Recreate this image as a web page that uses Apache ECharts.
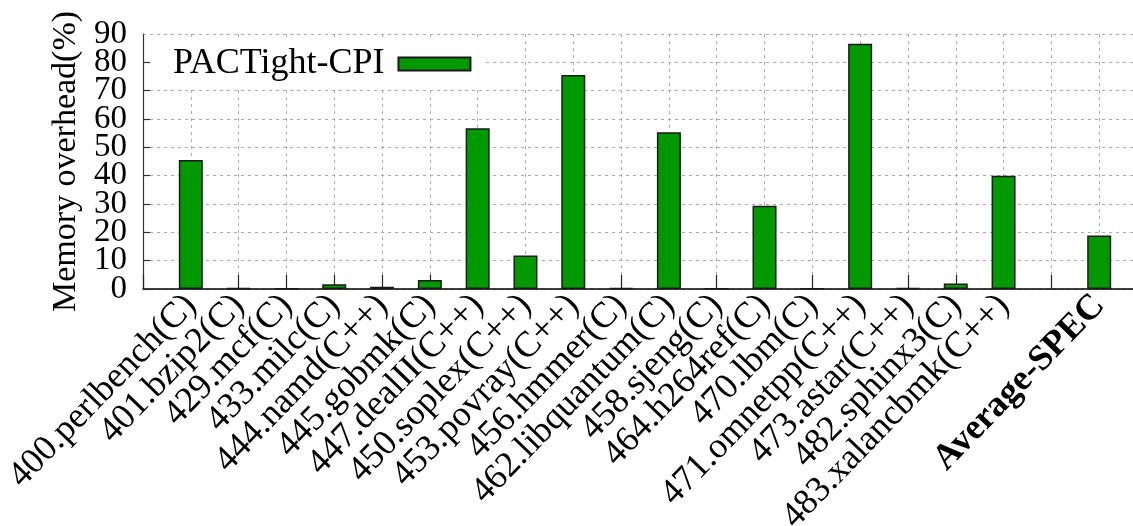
<!DOCTYPE html>
<html>
<head>
<meta charset="utf-8">
<script src="https://cdn.jsdelivr.net/npm/echarts@6/dist/echarts.min.js"></script>
<style>html,body{margin:0;padding:0;background:#fff;}#c{width:1133px;height:526px;}</style>
</head>
<body>
<div id="c"></div>
<script>
const categories = ['', '400.perlbench(C)', '401.bzip2(C)', '429.mcf(C)', '433.milc(C)', '444.namd(C++)', '445.gobmk(C)', '447.dealII(C++)', '450.soplex(C++)', '453.povray(C++)', '456.hmmer(C)', '462.libquantum(C)', '458.sjeng(C)', '464.h264ref(C)', '470.lbm(C)', '471.omnetpp(C++)', '473.astar(C++)', '482.sphinx3(C)', '483.xalancbmk(C++)', '', 'Average-SPEC', ''];
const overhead = [null, 45.5, 0.3, 0.1, 1.7, 0.8, 3.2, 56.7, 11.8, 75.5, 0.3, 55.3, 0.1, 29.4, 0.1, 86.6, 0.3, 1.9, 40.0, null, 18.9, null];
const seriesName = 'PACTight-CPI';
const yTicksEven = [0, 20, 40, 60, 80];
const yTicksOdd = [10, 30, 50, 70, 90];

const chart = echarts.init(document.getElementById('c'));
const serif = '"Liberation Serif", "DejaVu Serif", serif';
const yLabelBase = { margin: 16, fontFamily: serif, fontSize: 33, color: '#000', hideOverlap: false };
chart.setOption({
  animation: false,
  backgroundColor: '#fff',
  grid: { left: 143, top: 34, bottom: 237, width: 1004, containLabel: false, outerBoundsMode: 'none' },
  legend: {
    data: [{ name: seriesName, icon: 'rect' }],
    left: 150, top: 40,
    align: 'right',
    itemWidth: 72, itemHeight: 13, itemGap: 14,
    backgroundColor: '#fff',
    padding: [6, 14, 6, 23],
    textStyle: { fontFamily: serif, fontSize: 36, color: '#000', padding: [0, 9, 0, 0] }
  },
  xAxis: {
    type: 'category',
    data: categories,
    boundaryGap: false,
    axisLine: { lineStyle: { color: '#000', width: 1.5 } },
    axisTick: { show: true, inside: true, length: 14, interval: 0, lineStyle: { color: '#222', width: 1.2 } },
    splitLine: { show: true, interval: 0, lineStyle: { color: '#aaa', type: [3, 4], width: 1 } },
    axisLabel: {
      interval: 0, rotate: 46, margin: 11, hideOverlap: false,
      fontFamily: serif, fontSize: 36, color: '#000',
      formatter: function (v) { return v === 'Average-SPEC' ? '{b|' + v + '}' : v; },
      rich: { b: { fontFamily: serif, fontSize: 36, fontWeight: 'bold', color: '#000' } }
    }
  },
  yAxis: [{
    type: 'value',
    position: 'left',
    min: 0, max: 90, interval: 10,
    name: 'Memory overhead(%)',
    nameLocation: 'middle',
    nameGap: 58,
    nameTextStyle: { fontFamily: serif, fontSize: 34, color: '#000' },
    axisLine: { show: true, lineStyle: { color: '#333', width: 1.2 } },
    axisTick: { show: true, inside: true, length: 7, lineStyle: { color: '#333', width: 1.2 } },
    splitLine: { show: true, lineStyle: { color: '#aaa', type: [3, 4], width: 1 } },
    axisLabel: Object.assign({}, yLabelBase, {
      showMinLabel: true, showMaxLabel: false,
      formatter: function (v) { return yTicksEven.indexOf(v) >= 0 ? String(v) : ''; }
    })
  }, {
    type: 'value',
    position: 'left',
    offset: 0,
    min: 0, max: 90, interval: 10,
    axisLine: { show: false },
    axisTick: { show: false },
    splitLine: { show: false },
    axisLabel: Object.assign({}, yLabelBase, {
      showMinLabel: false, showMaxLabel: true,
      formatter: function (v) { return yTicksOdd.indexOf(v) >= 0 ? String(v) : ''; }
    })
  }],
  series: [{
    name: seriesName,
    type: 'bar',
    yAxisIndex: 0,
    data: overhead,
    barWidth: 24,
    itemStyle: { color: '#009900', borderColor: '#1a1a1a', borderWidth: 1.5 }
  }]
});
</script>
</body>
</html>
